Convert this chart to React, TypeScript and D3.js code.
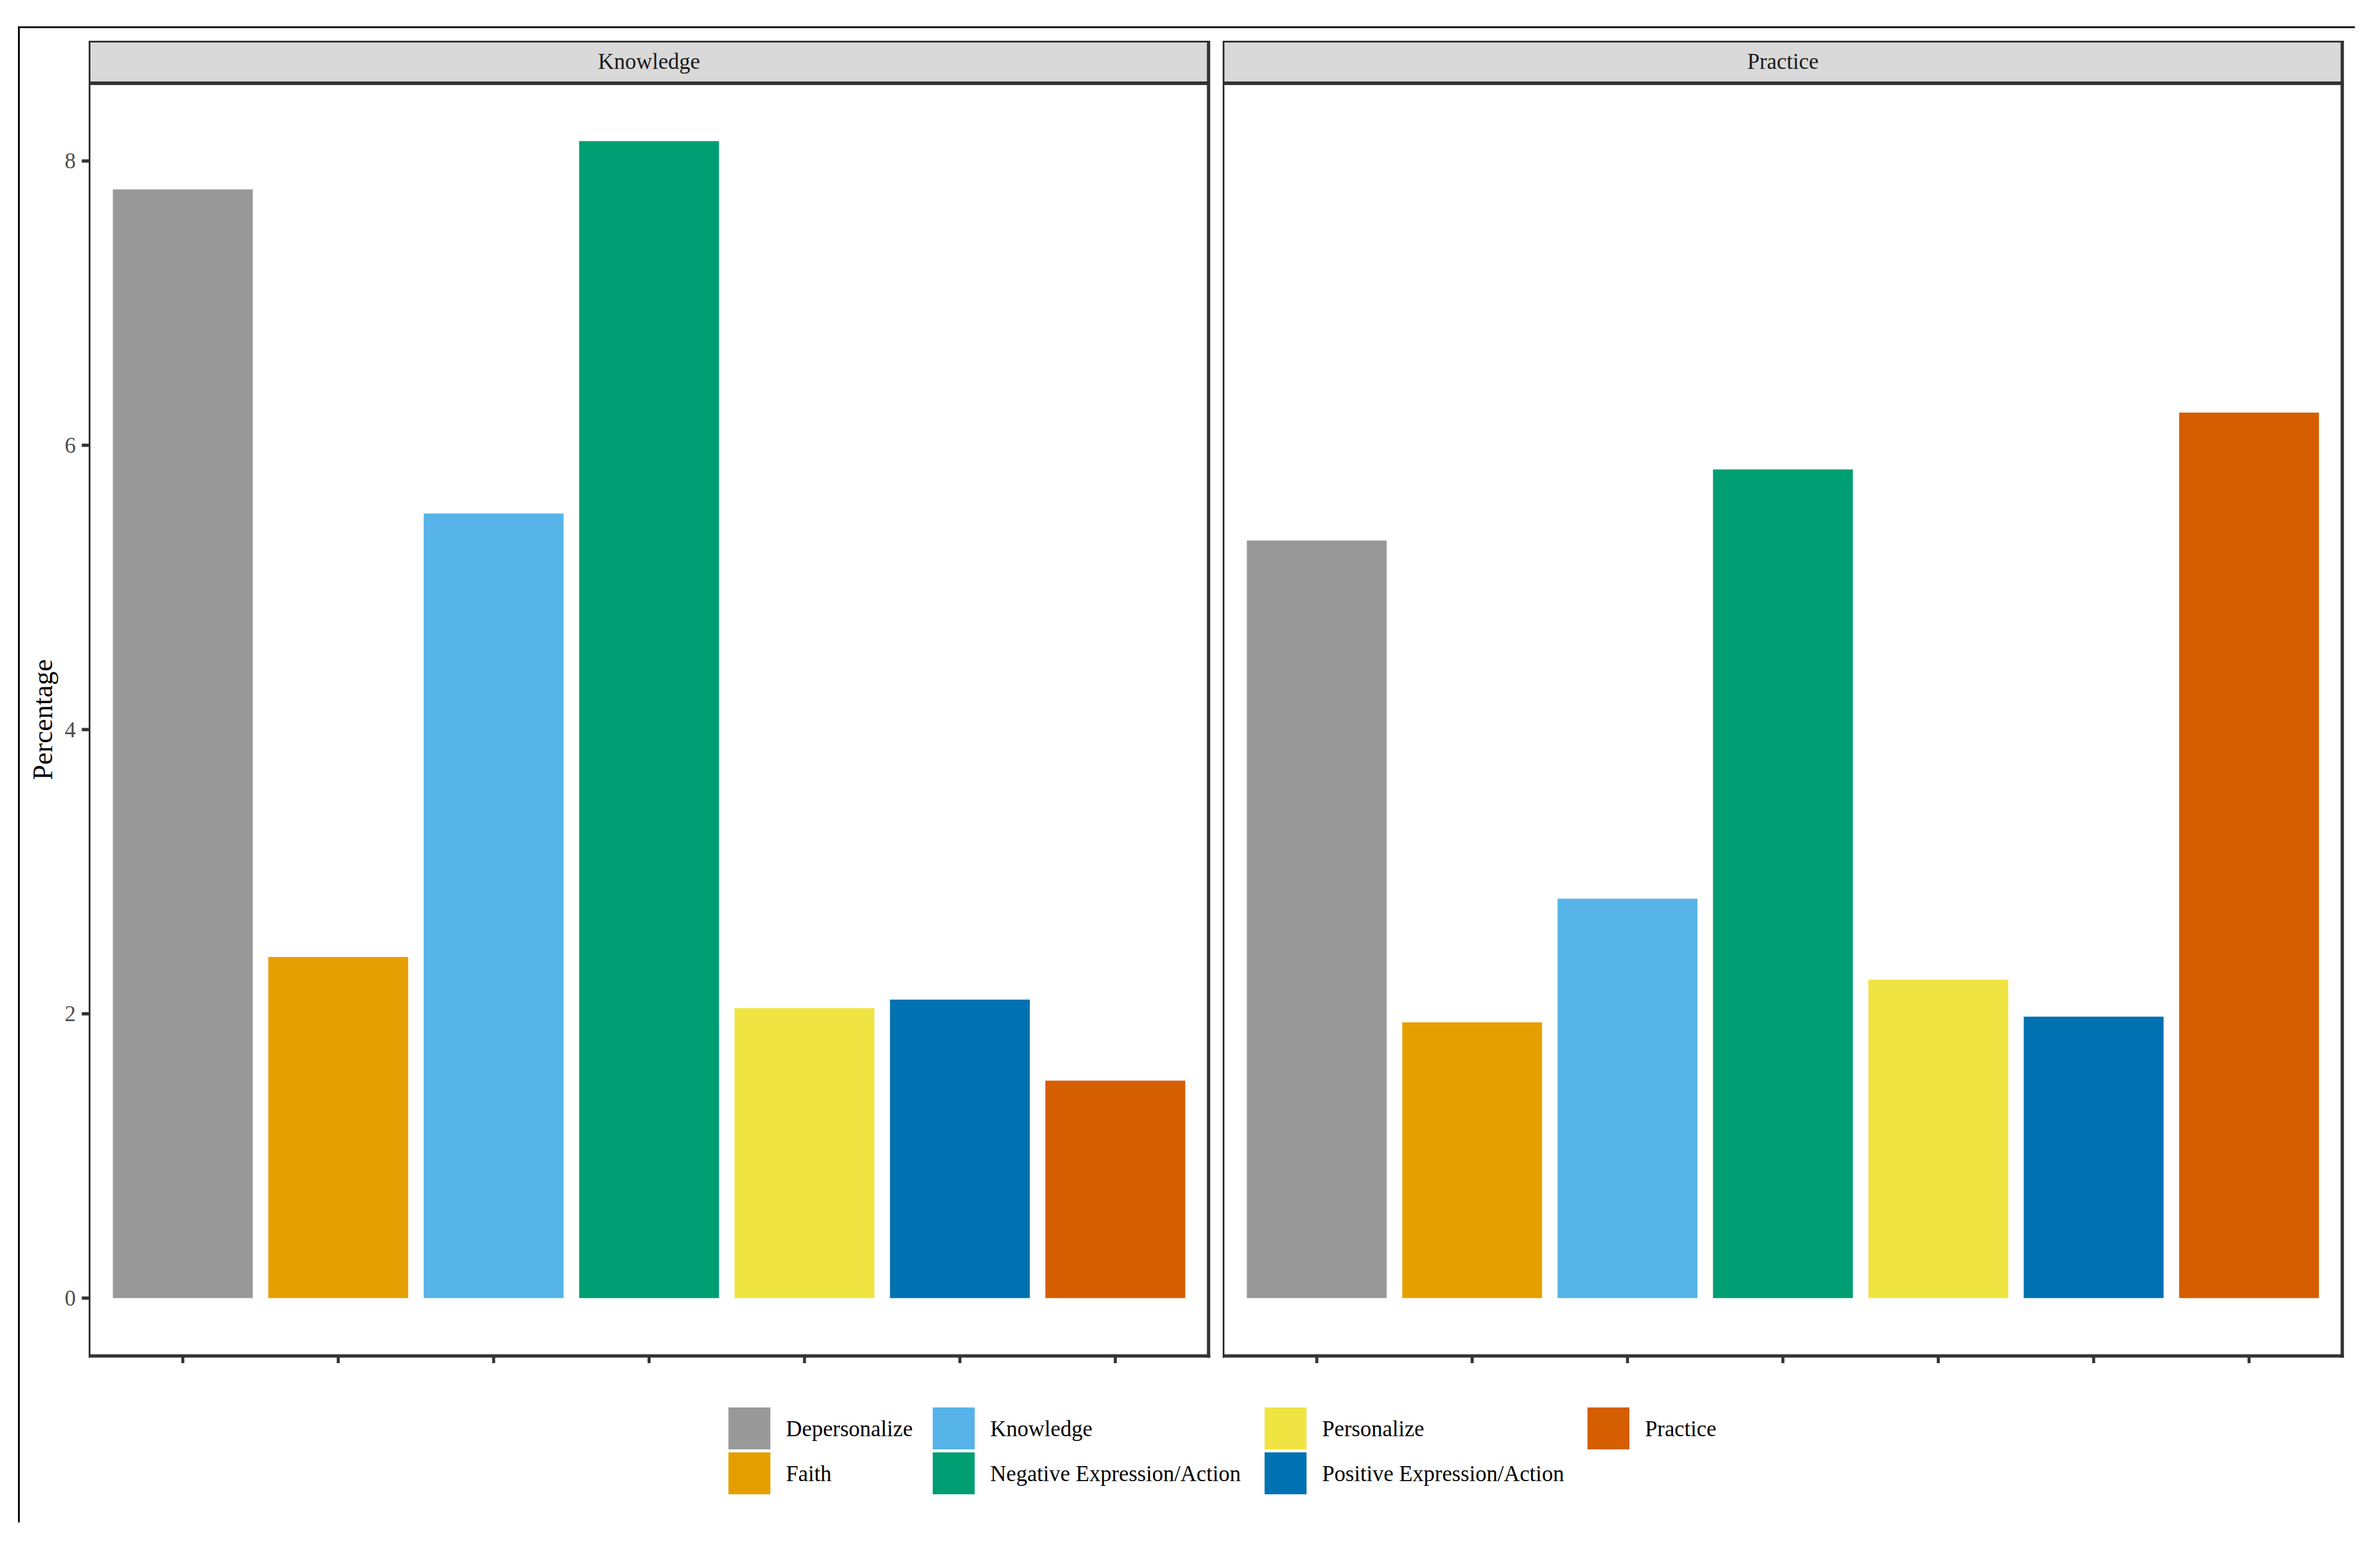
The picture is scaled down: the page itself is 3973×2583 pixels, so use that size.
import React, { useEffect } from "react";
import * as d3 from "d3";

const categories = [
  "Depersonalize",
  "Faith",
  "Knowledge",
  "Negative Expression/Action",
  "Personalize",
  "Positive Expression/Action",
  "Practice",
];
const colors = ["#999999", "#E69F00", "#56B4E9", "#009E73", "#F0E442", "#0072B2", "#D55E00"];
const panels = ["Knowledge", "Practice"];
const knowledgeValues = [7.8, 2.4, 5.52, 8.14, 2.04, 2.1, 1.53];
const practiceValues = [5.33, 1.94, 2.81, 5.83, 2.24, 1.98, 6.23];
const yTicks = [0, 2, 4, 6, 8];
const yTitle = "Percentage";

const W = 3973;
const H = 2583;
const FONT = "'Liberation Serif', 'Times New Roman', serif";

export default function App() {
  useEffect(() => {
    document.body.style.margin = "0";
    document.body.style.background = "#ffffff";
  }, []);

  const panelTop = 139;
  const panelBottom = 2264;
  const stripTop = 68;
  const panelX = [
    [149.5, 2017.5],
    [2042.5, 3910],
  ];
  const allValues = [...knowledgeValues, ...practiceValues];
  const vmax = d3.max(allValues) as number;
  const y = d3
    .scaleLinear()
    .domain([-0.05 * vmax, 1.05 * vmax])
    .range([panelBottom, panelTop]);

  const seriesByPanel = [knowledgeValues, practiceValues];
  const color = d3.scaleOrdinal<string, string>().domain(categories).range(colors);

  // legend layout
  const legendCols = [1216, 1557, 2111, 2650];
  const legendRows = [2350, 2425];
  const keySize = 70;

  return (
    <svg width={W} height={H} style={{ position: "absolute", left: 0, top: 0, background: "#fff" }}>
      <rect x={0} y={0} width={W} height={H} fill="#ffffff" />
      {/* outer frame lines */}
      <line x1={30} x2={3931} y1={45.5} y2={45.5} stroke="#000" strokeWidth={3} />
      <line x1={31.5} x2={31.5} y1={44} y2={2542} stroke="#000" strokeWidth={3} />

      {panels.map((p, pi) => {
        const [x0, x1] = panelX[pi];
        const x = d3
          .scaleBand<string>()
          .domain(categories)
          .range([x0, x1])
          .paddingInner(0.1)
          .paddingOuter(0.15);
        const vals = seriesByPanel[pi];
        return (
          <g key={p}>
            <rect x={x0} y={panelTop} width={x1 - x0} height={panelBottom - panelTop} fill="#fff" />
            {categories.map((c, i) => (
              <rect
                key={c}
                x={x(c)}
                width={x.bandwidth()}
                y={y(vals[i])}
                height={y(0) - y(vals[i])}
                fill={color(c)}
              />
            ))}
            {/* strip */}
            <rect x={x0} y={stripTop} width={x1 - x0} height={panelTop - stripTop} fill="#D9D9D9" />
            <line x1={x0 - 1.5} x2={x1 + 2.5} y1={stripTop + 1.5} y2={stripTop + 1.5} stroke="#333333" strokeWidth={3} />
            <line x1={x0 - 1.5} x2={x1 + 2.5} y1={panelTop} y2={panelTop} stroke="#333333" strokeWidth={6} />
            <text
              x={(x0 + x1) / 2}
              y={115}
              textAnchor="middle"
              fontFamily={FONT}
              fontSize={37}
              fill="#1A1A1A"
            >
              {p}
            </text>
            {/* panel border */}
            <line x1={x0} x2={x0} y1={stripTop} y2={panelBottom + 3} stroke="#333333" strokeWidth={3} />
            <line x1={x1} x2={x1} y1={stripTop} y2={panelBottom + 3} stroke="#333333" strokeWidth={5.5} />
            <line x1={x0 - 1.5} x2={x1 + 2.75} y1={panelBottom} y2={panelBottom} stroke="#333333" strokeWidth={5.5} />
            {/* x ticks */}
            {categories.map((c) => {
              const cx = (x(c) as number) + x.bandwidth() / 2;
              return (
                <line key={"t" + c} x1={cx} x2={cx} y1={panelBottom} y2={panelBottom + 12} stroke="#333333" strokeWidth={5} />
              );
            })}
            {/* y ticks on first panel */}
            {pi === 0 &&
              yTicks.map((t) => (
                <g key={"y" + t}>
                  <line x1={x0 - 13} x2={x0} y1={y(t)} y2={y(t)} stroke="#333333" strokeWidth={5.5} />
                  <text
                    x={x0 - 23}
                    y={y(t)}
                    dy="0.34em"
                    textAnchor="end"
                    fontFamily={FONT}
                    fontSize={37}
                    fill="#4D4D4D"
                  >
                    {t}
                  </text>
                </g>
              ))}
          </g>
        );
      })}

      {/* y title */}
      <text
        transform={`translate(87, ${(panelTop + panelBottom) / 2}) rotate(-90)`}
        textAnchor="middle"
        fontFamily={FONT}
        fontSize={46}
        fill="#000"
      >
        {yTitle}
      </text>

      {/* legend */}
      {categories.map((c, i) => {
        const col = Math.floor(i / 2);
        const row = i % 2;
        const lx = legendCols[col];
        const ly = legendRows[row];
        return (
          <g key={"lg" + c}>
            <rect x={lx} y={ly} width={keySize} height={keySize} fill={color(c)} />
            <text
              x={lx + 96}
              y={ly + 48}
              fontFamily={FONT}
              fontSize={37}
              fill="#000"
            >
              {c}
            </text>
          </g>
        );
      })}
    </svg>
  );
}
